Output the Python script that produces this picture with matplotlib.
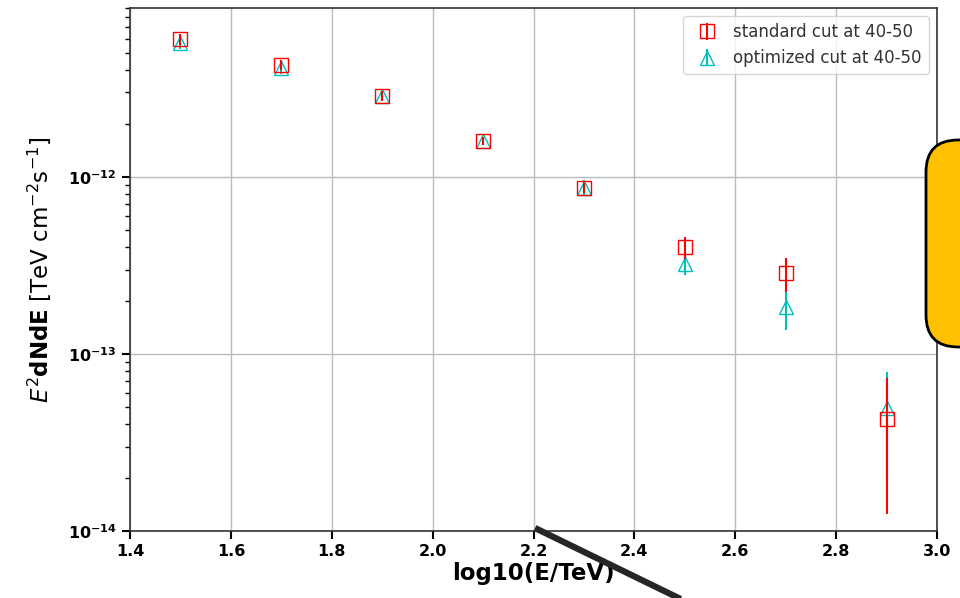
import matplotlib
matplotlib.use('Agg')
import matplotlib.pyplot as plt
from matplotlib.ticker import FuncFormatter, LogLocator, NullFormatter
from matplotlib.patches import FancyBboxPatch
from matplotlib.lines import Line2D
import numpy as np

# bins en log10(E/TeV)
log_e = [1.5, 1.7, 1.9, 2.1, 2.3, 2.5, 2.7, 2.9]

# corte estandar
std_flux = [6.0e-12, 4.3e-12, 2.87e-12, 1.6e-12, 8.7e-13, 4.0e-13, 2.87e-13, 4.3e-14]
std_err = [0.45e-12, 0.30e-12, 0.17e-12, 0.08e-12, 0.06e-12, 0.56e-13, 0.62e-13, 3.05e-14]

# corte optimizado
opt_flux = [5.7e-12, 4.1e-12, 2.85e-12, 1.6e-12, 8.7e-13, 3.23e-13, 1.84e-13, 4.96e-14]
opt_err = [0.40e-12, 0.28e-12, 0.15e-12, 0.08e-12, 0.09e-12, 0.44e-13, 0.47e-13, 3.0e-14]

etiquetas = ['standard cut at 40-50', 'optimized cut at 40-50']


def main():
    fig = plt.figure(figsize=(9.6, 5.98), dpi=100)
    ax = fig.add_axes([130 / 960, 67 / 598, 807 / 960, 523 / 598])

    ax.errorbar(log_e, std_flux, yerr=std_err, fmt='s', color='red',
                mfc='none', ms=10, elinewidth=1.5, label=etiquetas[0], zorder=3)
    ax.errorbar(log_e, opt_flux, yerr=opt_err, fmt='^', color='c',
                mfc='none', ms=10, elinewidth=1.5, label=etiquetas[1], zorder=2)

    ax.set_yscale('log')
    ax.set_xlim(1.4, 3.0)
    ax.set_ylim(1e-14, 9e-12)
    ax.yaxis.set_major_locator(LogLocator(base=10))
    ax.yaxis.set_major_formatter(FuncFormatter(
        lambda v, pos: r'$\mathbf{10^{%d}}$' % round(np.log10(v))))
    ax.yaxis.set_minor_formatter(NullFormatter())
    ax.grid(True, which='major', color='#bbbbbb', linewidth=1)

    for lab in ax.get_xticklabels():
        lab.set_fontweight('bold')
    ax.tick_params(axis='both', which='major', labelsize=11.5, width=1.5, length=6)
    ax.tick_params(axis='y', which='minor', width=1, length=3.5)
    for s in ax.spines.values():
        s.set_linewidth(1.2)
        s.set_color('#333333')

    ax.set_xlabel('log10(E/TeV)', fontsize=16.5, fontweight='bold', labelpad=2)
    ax.set_ylabel(r'$E^2\mathbf{dNdE}$ [TeV cm$^{-2}$s$^{-1}$]', fontsize=16.5,
                  labelpad=10)

    leg = ax.legend(loc='upper right', fontsize=12, handletextpad=0.6)
    for t in leg.get_texts():
        t.set_color('#333333')

    # adornos de la diapositiva
    caja = FancyBboxPatch((9.26, 2.51), 1.2, 2.07,
                          boxstyle='round,pad=0,rounding_size=0.32',
                          transform=fig.dpi_scale_trans, facecolor='#FFC000',
                          edgecolor='black', linewidth=2, clip_on=False)
    fig.patches.append(caja)
    flecha = Line2D([5.35, 6.95], [0.70, -0.08], transform=fig.dpi_scale_trans,
                    color='#262626', linewidth=4.5, solid_capstyle='butt')
    fig.lines.append(flecha)

    plt.savefig('out.png', dpi=100)


main()
